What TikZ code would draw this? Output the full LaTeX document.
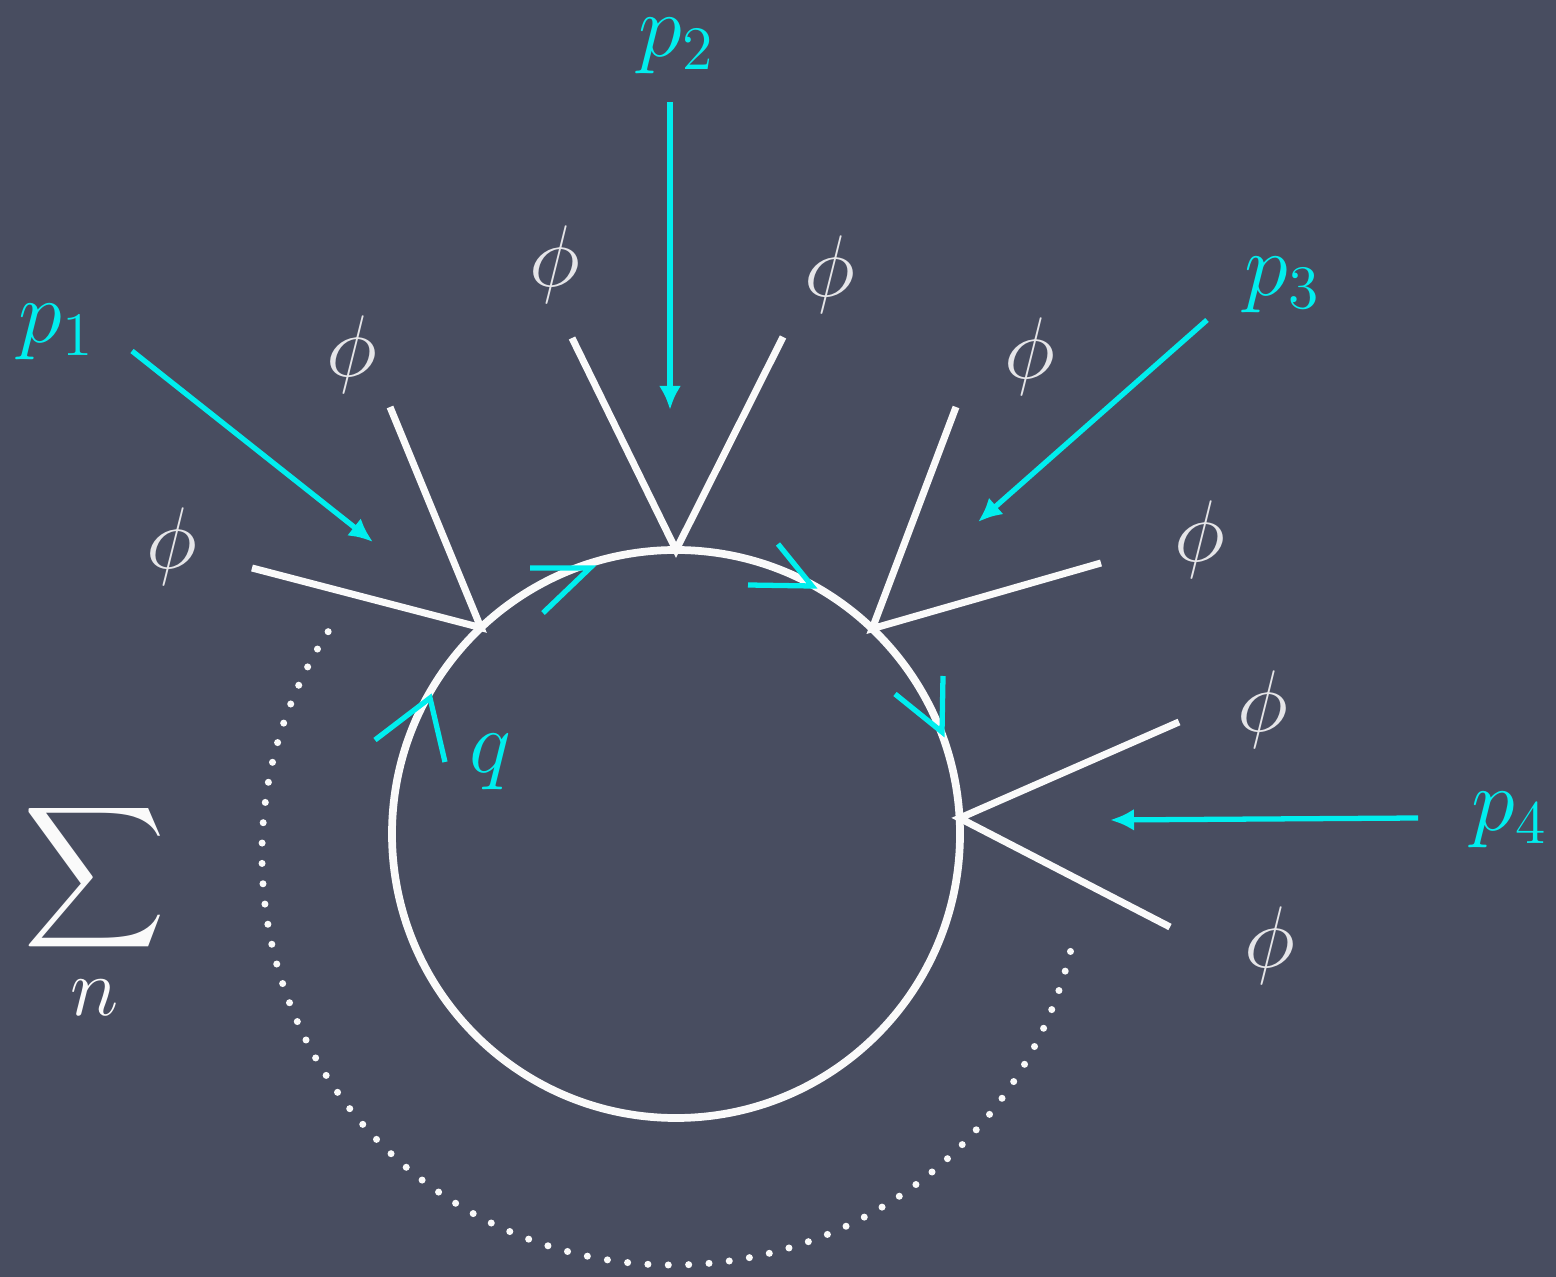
\documentclass[tikz,border=0pt]{standalone}
\usepackage{amsmath,amssymb}
\usepackage{tikz}
\usetikzlibrary{arrows.meta,calc}
\definecolor{board}{RGB}{72,77,96}
\definecolor{chalk}{RGB}{250,250,250}
\definecolor{chalkcyan}{RGB}{0,238,238}
\tikzset{
  loopline/.style={draw=chalk,line width=2.2pt},
  leg/.style={draw=chalk,line width=2pt},
  mom/.style={-{Latex[length=2.4mm,width=2.2mm]},draw=chalkcyan,line width=1.5pt},
  chev/.style={draw=chalkcyan,line width=1.5pt},
  dotarc/.style={draw=chalk,line width=2pt,line cap=round,dash pattern=on 0pt off 5.8pt},
  philabel/.style={text=chalk!88!board,font=\huge,scale=1.2,inner sep=1pt},
  momlabel/.style={text=chalkcyan,font=\huge,scale=1.22,inner sep=1pt}
}

\begin{document}
\begin{tikzpicture}
  %% Board
  \fill[board] (0,0) rectangle (15.56,-12.77);
  \useasboundingbox (0,0) rectangle (15.56,-12.77);

  %% Loop and vertices
  \coordinate (C) at (6.76,-8.34);
  \draw[loopline] (C) circle (2.84);
  \coordinate (v1) at ($(C)+(133.4:2.84)$);
  \coordinate (v2) at ($(C)+(90:2.84)$);
  \coordinate (v3) at ($(C)+(46.3:2.84)$);
  \coordinate (v4) at ($(C)+(3.2:2.84)$);

  %% External legs
  \coordinate (e1) at (2.52,-5.68);
  \coordinate (e2) at (3.90,-4.07);
  \coordinate (e3) at (5.72,-3.38);
  \coordinate (e4) at (7.83,-3.37);
  \coordinate (e5) at (9.56,-4.07);
  \coordinate (e6) at (11.01,-5.63);
  \coordinate (e7) at (11.79,-7.22);
  \coordinate (e8) at (11.70,-9.27);
  \draw[leg] (e1) -- (v1) -- (e2);
  \draw[leg] (e3) -- (v2) -- (e4);
  \draw[leg] (e5) -- (v3) -- (e6);
  \draw[leg] (e7) -- (v4) -- (e8);

  %% Field labels
  \node[philabel] (phi1) at (1.72,-5.47) {$\phi$};
  \node[philabel] (phi2) at (3.52,-3.55) {$\phi$};
  \node[philabel] (phi3) at (5.55,-2.65) {$\phi$};
  \node[philabel] (phi4) at (8.30,-2.75) {$\phi$};
  \node[philabel] (phi5) at (10.30,-3.57) {$\phi$};
  \node[philabel] (phi6) at (12.00,-5.40) {$\phi$};
  \node[philabel] (phi7) at (12.63,-7.10) {$\phi$};
  \node[philabel] (phi8) at (12.70,-9.46) {$\phi$};

  %% Momenta
  \node[momlabel] (p1) at (0.57,-3.32) {$p_1$};
  \node[momlabel] (p2) at (6.77,-0.46) {$p_2$};
  \node[momlabel] (p3) at (12.83,-2.85) {$p_3$};
  \node[momlabel] (p4) at (15.10,-8.20) {$p_4$};
  \coordinate (p1s) at (1.32,-3.51);  \coordinate (p1e) at (3.73,-5.42);
  \coordinate (p2s) at (6.70,-1.02);  \coordinate (p2e) at (6.70,-4.10);
  \coordinate (p3s) at (12.07,-3.20); \coordinate (p3e) at (9.78,-5.22);
  \coordinate (p4s) at (14.18,-8.18); \coordinate (p4e) at (11.10,-8.20);
  \draw[mom] (p1s) -- (p1e);
  \draw[mom] (p2s) -- (p2e);
  \draw[mom] (p3s) -- (p3e);
  \draw[mom] (p4s) -- (p4e);

  %% Loop momentum flow
  \coordinate (t1) at (5.90,-5.68);
  \coordinate (t2) at (4.30,-6.98);
  \coordinate (t3) at (8.12,-5.86);
  \coordinate (t4) at (9.42,-7.32);
  \draw[chev] ($(t1)+(-0.60,0)$) -- (t1) -- ++(-0.47,-0.45);
  \draw[chev] ($(t2)+(-0.55,-0.42)$) -- (t2) -- ++(0.15,-0.64);
  \draw[chev] ($(t3)+(-0.64,0.01)$) -- (t3) -- ++(-0.34,0.42);
  \draw[chev] ($(t4)+(-0.47,0.38)$) -- (t4) -- ++(0.01,0.56);
  \node[momlabel] (q) at (4.90,-7.62) {$q$};

  %% Sum over insertions
  \coordinate (D) at (6.72,-8.55);
  \draw[dotarc] ($(D)+(147:4.10)$) arc[start angle=147,end angle=347,radius=4.10];
  \node[text=chalk,font=\Huge,scale=1.13] (sum) at (0.95,-9.12) {$\displaystyle\sum_{n}$};
\end{tikzpicture}
\end{document}
